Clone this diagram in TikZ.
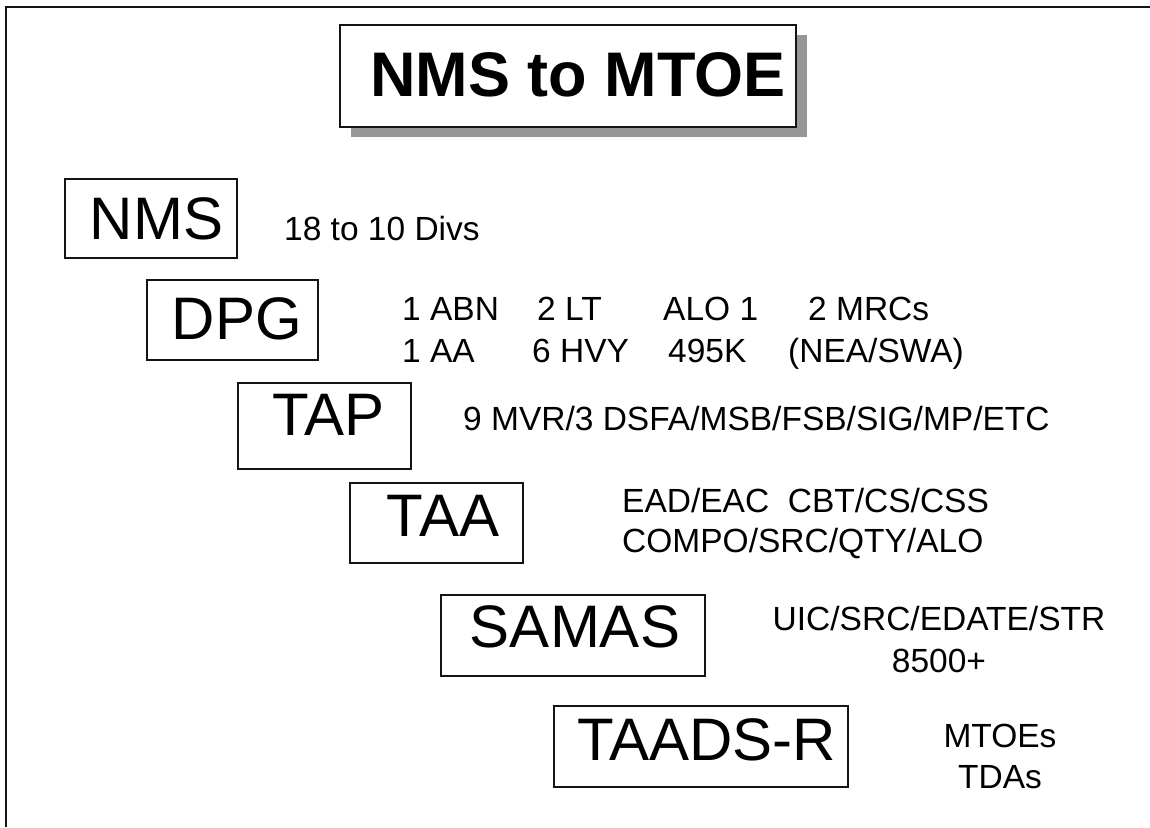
\documentclass[tikz,border=0pt]{standalone}
\usepackage{fontspec}
\setmainfont{Liberation Sans}
\usepackage{tikz}
\usetikzlibrary{shadows}
\definecolor{frameBlack}{RGB}{20,20,20}
\definecolor{shadowGray}{RGB}{150,150,150}

\begin{document}
\begin{tikzpicture}[
    x=1pt, y=-1pt,
    % empty stage frame, the stage name is set on top of it
    stagebox/.style={
        rectangle, draw=frameBlack, line width=1.8pt,
        inner sep=0pt
    },
    stagelbl/.style={font=\fontsize{60}{60}\selectfont, inner sep=0pt},
    % title box with its grey drop shadow
    titlebox/.style={
        rectangle, draw=frameBlack, line width=1.6pt, fill=white,
        minimum width=456, minimum height=102, inner sep=0pt,
        drop shadow={shadow xshift=11pt, shadow yshift=-10pt,
                     fill=shadowGray, opacity=1}
    },
    titlelbl/.style={font=\fontsize{63}{63}\selectfont\bfseries,
                     inner sep=0pt},
    note/.style={font=\fontsize{33.5}{41.5}\selectfont,
                 inner sep=0pt, anchor=base west},
    notec/.style={note, anchor=base}
]
\useasboundingbox (0,0) rectangle (1150,827);
% -- outer frame (open at right and bottom) ---------------------
\draw[frameBlack, line width=2pt] (6,827) |- (1150,7);
% -- title --------------------------------------------------------
\node[titlebox] (titlebox) at (568,76) {};
\node[titlelbl] (title)    at (578,75) {NMS to MTOE};
% -- stage frames -------------------------------------------------
\node[stagebox, minimum width=172, minimum height=79] (nmsbox)   at (151,218.5) {};
\node[stagebox, minimum width=171, minimum height=80] (dpgbox)   at (232.5,320) {};
\node[stagebox, minimum width=173, minimum height=86] (tapbox)   at (324.5,426) {};
\node[stagebox, minimum width=173, minimum height=80] (taabox)   at (436.5,523) {};
\node[stagebox, minimum width=264, minimum height=81] (samasbox) at (573,635.5) {};
\node[stagebox, minimum width=294, minimum height=81] (taadsbox) at (701,746.5) {};
% -- stage names --------------------------------------------------
\node[stagelbl] (nms)   at (156.5,218.5) {NMS};
\node[stagelbl] (dpg)   at (237,318.5)   {DPG};
\node[stagelbl] (tap)   at (328.5,414.5) {TAP};
\node[stagelbl] (taa)   at (443,515.5)   {TAA};
\node[stagelbl] (samas) at (575,626.5)   {SAMAS};
\node[stagelbl] (taads) at (706.5,739.5) {TAADS-R};
% -- notes beside each stage --------------------------------------
\node[note] (nmsnote) at (284,240) {18 to 10 Divs};
\foreach \x/\txt [count=\i] in {402/1 ABN, 537/2 LT, 663/ALO 1, 808/2 MRCs}
    \node[note] (dpgA\i) at (\x,320) {\txt};
\foreach \x/\txt [count=\i] in {402/1 AA, 532/6 HVY, 668/495K, 788/{(NEA/SWA)}}
    \node[note] (dpgB\i) at (\x,362) {\txt};
\node[note] (tapnote) at (463,430) {9 MVR/3 DSFA/MSB/FSB/SIG/MP/ETC};
\node[note] (taanoteA) at (622,512) {EAD/EAC\ \ CBT/CS/CSS};
\node[note] (taanoteB) at (622,552) {COMPO/SRC/QTY/ALO};
\node[notec] (samasnoteA) at (939,630) {UIC/SRC/EDATE/STR};
\node[notec] (samasnoteB) at (939,672) {8500+};
\node[notec] (taadsnoteA) at (1000,747) {MTOEs};
\node[notec] (taadsnoteB) at (1000,788) {TDAs};
\end{tikzpicture}
\end{document}
